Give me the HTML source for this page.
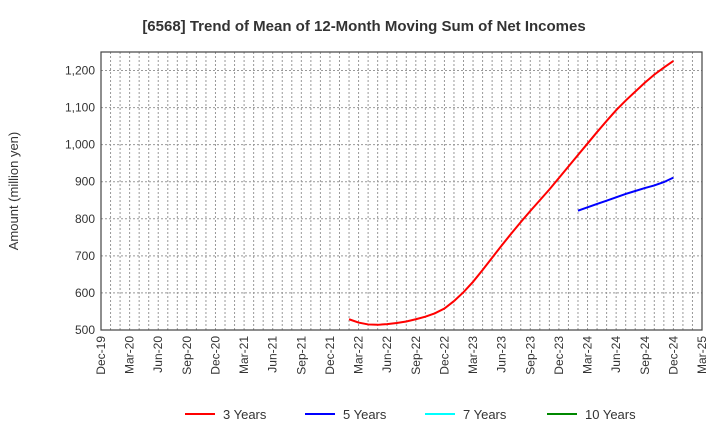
<!DOCTYPE html>
<html><head><meta charset="utf-8"><style>
body{margin:0;background:#fff;}
svg{display:block;font-family:"Liberation Sans",Arial,sans-serif;}
</style></head><body>
<svg id="chart" width="720" height="440">
<text x="364" y="31" text-anchor="middle" font-size="15" font-weight="bold" fill="#333">[6568]  Trend of Mean of 12-Month Moving Sum of Net Incomes</text>
<text transform="translate(18,191) rotate(-90)" text-anchor="middle" font-size="13" fill="#333">Amount (million yen)</text>
<g id="grid"></g><g id="axes"></g><g id="series"></g>
<g>
<g><line x1="185" y1="414" x2="215" y2="414" stroke="#f00" stroke-width="2"/><text x="223" y="419" font-size="13" fill="#333">3 Years</text></g>
<g><line x1="305" y1="414" x2="335" y2="414" stroke="#00f" stroke-width="2"/><text x="343" y="419" font-size="13" fill="#333">5 Years</text></g>
<g><line x1="425" y1="414" x2="455" y2="414" stroke="#0ff" stroke-width="2"/><text x="463" y="419" font-size="13" fill="#333">7 Years</text></g>
<g><line x1="547" y1="414" x2="577" y2="414" stroke="#080" stroke-width="2"/><text x="585" y="419" font-size="13" fill="#333">10 Years</text></g>
</g>
</svg>
<script>
const xTickLabels=["Dec-19","Mar-20","Jun-20","Sep-20","Dec-20","Mar-21","Jun-21","Sep-21","Dec-21","Mar-22","Jun-22","Sep-22","Dec-22","Mar-23","Jun-23","Sep-23","Dec-23","Mar-24","Jun-24","Sep-24","Dec-24","Mar-25"];
const yTicks=[500,600,700,800,900,1000,1100,1200];
const redStart=26;
const red3y=[529,520,515,514,516,519,523,529,536,545,558,578,602,630,662,695,728,760,791,821,850,879,910,941,972,1003,1034,1064,1093,1119,1143,1167,1189,1208,1226];
const blueStart=50;
const blue5y=[822,831,840,849,858,867,875,883,890,899,911];
const L=101,R=702,T=52,B=330,NM=63,YMIN=500,YMAX=1250;
const xs=m=>L+m*(R-L)/NM, ys=v=>B-(v-YMIN)/(YMAX-YMIN)*(B-T);
const NS="http://www.w3.org/2000/svg";
function mk(t,a,p){const e=document.createElementNS(NS,t);for(const k in a)e.setAttribute(k,a[k]);p.appendChild(e);return e;}
const g=document.getElementById('grid'),ax=document.getElementById('axes'),s=document.getElementById('series');
for(let m=1;m<NM;m++){const l=mk('line',{x1:xs(m),x2:xs(m),y1:T,y2:B,stroke:'#999','stroke-dasharray':'2,2','stroke-width':1},g);

}
yTicks.forEach(v=>{const l=mk('line',{x1:L,x2:R,y1:ys(v),y2:ys(v),stroke:'#999','stroke-dasharray':'2,2','stroke-width':1},g);


const t=mk('text',{x:L-6,y:ys(v)+4,'text-anchor':'end','font-size':12,fill:'#333'},ax);t.textContent=v.toLocaleString('en-US');

});
xTickLabels.forEach((lab,i)=>{const x=xs(i*3);const t=mk('text',{transform:`translate(${x+4},336) rotate(-90)`,'text-anchor':'end','font-size':12,fill:'#333'},ax);t.textContent=lab;

});
const fr=mk('rect',{x:L,y:T,width:R-L,height:B-T,fill:'none',stroke:'#444','stroke-width':1.2},ax);


function line(arr,st,col,name){const p=mk('polyline',{points:arr.map((v,i)=>xs(st+i)+','+ys(v)).join(' '),fill:'none',stroke:col,'stroke-width':2},s);

}
line(red3y,redStart,'#f00','series-3-years');
line(blue5y,blueStart,'#00f','series-5-years');
</script>
</body></html>
